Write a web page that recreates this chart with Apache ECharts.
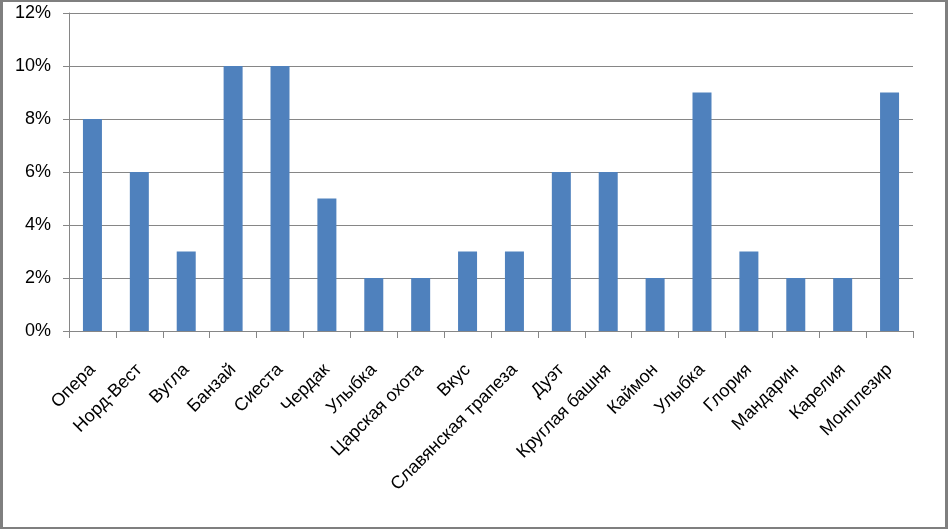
<!DOCTYPE html>
<html>
<head>
<meta charset="utf-8">
<script src="https://cdn.jsdelivr.net/npm/echarts@6/dist/echarts.min.js"></script>
<style>
html,body{margin:0;padding:0;background:#fff;}
#chart{position:absolute;left:0;top:0;width:948px;height:529px;}
#frame{position:absolute;left:0;top:0;width:948px;height:529px;box-sizing:border-box;border-style:solid;border-color:#7f7f7f;border-width:2px 3px 2px 3px;pointer-events:none;}
</style>
</head>
<body>
<div id="chart"></div>
<div id="frame"></div>
<script>
var categories = ['Опера','Норд-Вест','Вугла','Банзай','Сиеста','Чердак','Улыбка','Царская охота','Вкус','Славянская трапеза','Дуэт','Круглая башня','Каймон','Улыбка','Глория','Мандарин','Карелия','Монплезир'];
var values = [8, 6, 3, 10, 10, 5, 2, 2, 3, 3, 6, 6, 2, 9, 3, 2, 2, 9];
var yTicks = [0, 2, 4, 6, 8, 10, 12];

var chart = echarts.init(document.getElementById('chart'));
var font = '"Liberation Sans", Arial, sans-serif';
chart.setOption({
  animation: false,
  backgroundColor: '#fff',
  grid: {left: 69, right: 35, top: 13, bottom: 198, containLabel: false},
  xAxis: {
    type: 'category',
    data: categories,
    boundaryGap: true,
    axisLine: {show: true, lineStyle: {color: '#868686', width: 1}},
    axisTick: {show: true, alignWithLabel: false, length: 7, lineStyle: {color: '#868686'}},
    axisLabel: {interval: 0, rotate: 45, margin: 36, color: '#000', fontSize: 18, fontFamily: font}
  },
  yAxis: {
    type: 'value',
    min: yTicks[0],
    max: yTicks[yTicks.length - 1],
    interval: 2,
    axisLine: {show: true, lineStyle: {color: '#868686', width: 1}},
    axisTick: {show: true, length: 6, lineStyle: {color: '#868686'}},
    axisLabel: {margin: 18, color: '#000', fontSize: 18, fontFamily: font, formatter: function (v) { return v + '%'; }},
    splitLine: {show: true, lineStyle: {color: '#868686', width: 1}}
  },
  series: [{
    type: 'bar',
    data: values,
    barWidth: 19,
    itemStyle: {color: '#4f81bd'}
  }]
});
</script>
</body>
</html>
